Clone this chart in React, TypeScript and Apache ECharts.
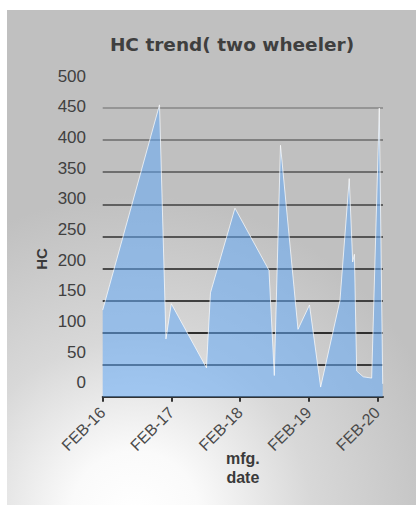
import React, { useEffect, useRef } from "react";
import * as echarts from "echarts";

// months after FEB-16
const months = [0, 9.93, 11.06, 11.99, 18.14, 18.84, 23.12, 29.07, 30.0, 31.08, 34.14, 36.15, 38.1, 41.48, 43.1, 43.7, 44.0, 44.4, 45.55, 47.02, 48.35, 48.95];
const hcValues = [135, 455, 90, 145, 45, 162, 294, 197, 33, 392, 105, 143, 15, 150, 340, 210, 222, 40, 31, 29, 450, 20];
const tickMonths = [0, 12, 24, 36, 48];
const tickLabels = ["FEB-16", "FEB-17", "FEB-18", "FEB-19", "FEB-20"];
const yTicks = [0, 50, 100, 150, 200, 250, 300, 350, 400, 450, 500];
const gridColors = ["#333333", "#3a3a3a", "#2e2e2e", "#404040", "#4a4a4a", "#555555", "#606060", "#6e6e6e", "#808080", "#959595", "#aaaaaa"];

export default function App() {
  const ref = useRef<HTMLDivElement>(null);
  useEffect(() => {
    if (!ref.current) return;
    const chart = echarts.init(ref.current, null, { renderer: "svg" });
    const data = months.map((m, i) => [m, hcValues[i]]);
    chart.setOption({
      animation: false,
      backgroundColor: "#ffffff",
      title: {
        text: "HC trend( two wheeler)",
        left: 227,
        top: 29,
        textAlign: "center",
        textStyle: { fontFamily: "DejaVu Sans", fontWeight: "bold", fontSize: 18.5, lineHeight: 20, color: "#3f3f3f" },
      },
      graphic: [
        {
          type: "rect",
          z: -10,
          silent: true,
          shape: { x: 7, y: 10, width: 409, height: 495 },
          style: {
            fill: new echarts.graphic.RadialGradient(135, 515, 320, [
              { offset: 0, color: "#ffffff" },
              { offset: 0.2, color: "#fafafa" },
              { offset: 0.55, color: "#d8d8d8" },
              { offset: 1, color: "#c0c0c0" },
            ], true),
          },
        },
        {
          type: "text",
          x: 41,
          y: 259,
          rotation: Math.PI / 2,
          style: {
            text: "HC",
            fontFamily: "Liberation Sans",
            fontWeight: "bold",
            fontSize: 15,
            fill: "#3a3a3a",
            align: "center",
            verticalAlign: "middle",
          },
        },
      ],
      grid: { left: 102.7, right: 33, top: 76, bottom: 108.3, containLabel: false },
      xAxis: {
        type: "value",
        min: 0,
        max: 49,
        name: "mfg.\ndate",
        nameLocation: "middle",
        nameGap: 52,
        nameMoveOverlap: false,
        nameTextStyle: { fontFamily: "Liberation Sans", fontWeight: "bold", fontSize: 16, lineHeight: 19, color: "#3a3a3a" },
        axisLine: { show: true, lineStyle: { color: "#333333", width: 2 } },
        axisTick: { show: true, customValues: tickMonths, length: 5, lineStyle: { color: "#333333", width: 2 } },
        axisLabel: {
          customValues: tickMonths,
          formatter: (v: number) => tickLabels[tickMonths.indexOf(Math.round(v))] ?? "",
          rotate: 45,
          margin: 13,
          fontFamily: "Liberation Sans",
          fontSize: 16,
          color: "#4a4a4a",
        },
        splitLine: { show: false },
      },
      yAxis: [
        {
          type: "value",
          min: 0,
          max: 500,
          interval: 50,
          axisLine: { show: false },
          axisTick: { show: false },
          axisLabel: { show: false },
          splitLine: { show: true, showMaxLine: false, lineStyle: { color: gridColors, width: 1.8 } },
        },
        {
          type: "value",
          position: "left",
          min: -22.8,
          max: 500,
          axisLine: { show: false },
          axisTick: { show: false },
          splitLine: { show: false },
          axisLabel: {
            customValues: yTicks,
            margin: 16.7,
            fontFamily: "Liberation Sans",
            fontSize: 17,
            color: "#404040",
          },
        },
      ],
      series: [
        {
          type: "line",
          yAxisIndex: 0,
          data,
          showSymbol: false,
          symbol: "none",
          lineStyle: { color: "#ffffff", width: 1, opacity: 0.7 },
          areaStyle: { color: "rgba(100,170,245,0.55)", opacity: 1 },
        },
      ],
    });
    return () => chart.dispose();
  }, []);
  return <div ref={ref} style={{ position: "fixed", left: 0, top: 0, width: 416, height: 505 }} />;
}
